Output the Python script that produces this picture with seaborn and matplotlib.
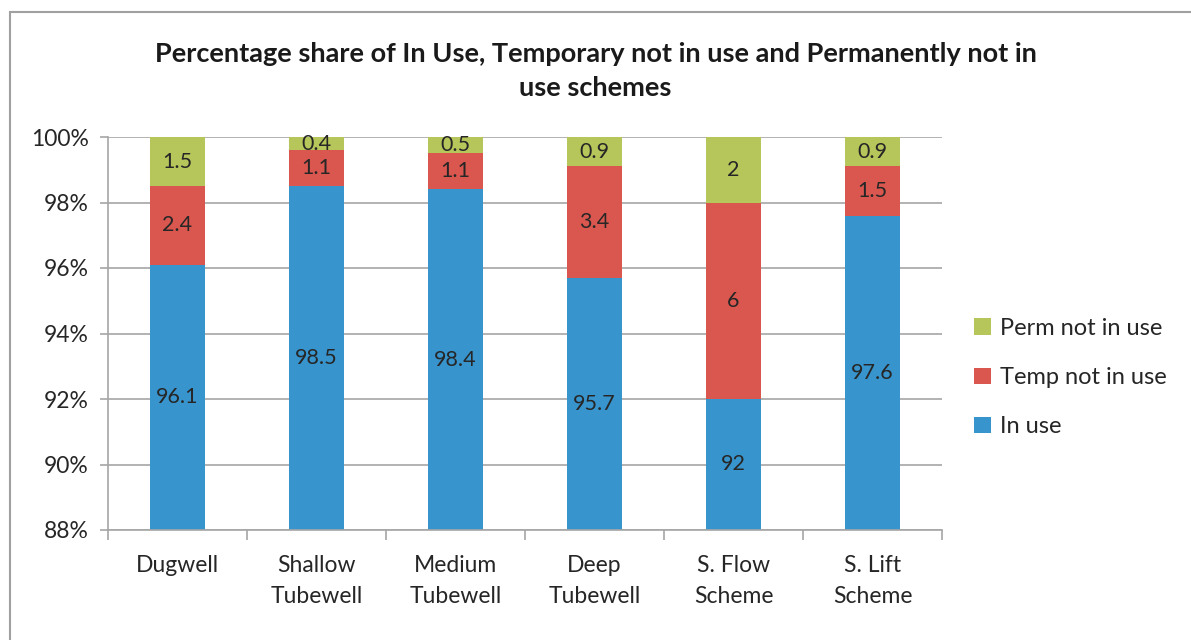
import matplotlib
matplotlib.use("Agg")
import matplotlib.pyplot as plt
import seaborn as sns
import numpy as np
import pandas as pd
from matplotlib.patches import Rectangle

# data
categories = ["Dugwell", "Shallow\nTubewell", "Medium\nTubewell", "Deep\nTubewell", "S. Flow\nScheme", "S. Lift\nScheme"]
in_use = [96.1, 98.5, 98.4, 95.7, 92, 97.6]
temp_not = [2.4, 1.1, 1.1, 3.4, 6, 1.5]
perm_not = [1.5, 0.4, 0.5, 0.9, 2, 0.9]
yticks = [88, 90, 92, 94, 96, 98, 100]

sns.set_style("white")
plt.rcParams['font.family'] = ['Lato', 'DejaVu Sans']

blue = "#3794CC"
red = "#D9574F"
green = "#B7C65A"
grey = "#A6A6A6"
txt = "#262626"

fig = plt.figure(figsize=(11.91, 6.4), dpi=100)
ax = fig.add_axes([108 / 1191, 1 - 530 / 640, (942 - 108) / 1191, (530 - 137) / 640])

df = pd.DataFrame({"cat": categories, "in_use": in_use, "temp": temp_not, "perm": perm_not})
bottom_temp = df["in_use"]
bottom_perm = df["in_use"] + df["temp"]

sns.barplot(data=df, x="cat", y="in_use", color=blue, width=0.4, ax=ax, label="In use",
            edgecolor="none", saturation=1)
sns.barplot(data=df, x="cat", y="temp", color=red, width=0.4, ax=ax, label="Temp not in use",
            bottom=bottom_temp, edgecolor="none", saturation=1)
sns.barplot(data=df, x="cat", y="perm", color=green, width=0.4, ax=ax, label="Perm not in use",
            bottom=bottom_perm, edgecolor="none", saturation=1)
handles, labels = ax.get_legend_handles_labels()
if ax.get_legend() is not None:
    ax.get_legend().remove()

ymin, ymax = 88, 100
ax.set_ylim(ymin, ymax)
ax.set_xlim(-0.5, len(categories) - 0.5)

# segment labels
for i in range(len(categories)):
    y1 = (ymin + in_use[i]) / 2
    ax.text(i, y1, f"{in_use[i]:g}", ha="center", va="center", fontsize=15.5, color=txt)
    y2 = in_use[i] + temp_not[i] / 2
    ax.text(i, y2, f"{temp_not[i]:g}", ha="center", va="center", fontsize=15.5, color=txt)
    y3 = in_use[i] + temp_not[i] + perm_not[i] / 2
    ax.text(i, y3, f"{perm_not[i]:g}", ha="center", va="center", fontsize=15.5, color=txt)

ax.set_yticks(yticks)
ax.set_yticklabels([f"{t}%" for t in yticks], fontsize=16.5, color=txt)
ax.yaxis.grid(True, color=grey, linewidth=1.2)
ax.set_axisbelow(True)

ax.set_xticks(range(len(categories)))
ax.set_xticklabels(categories, fontsize=16.5, color=txt, linespacing=1.6)
ax.tick_params(axis="x", length=0, pad=18)
ax.tick_params(axis="y", length=6, color=grey, width=1.2, direction="out", left=True, pad=8)
# category boundary ticks
ax.set_xticks(np.arange(-0.5, len(categories), 1), minor=True)
ax.tick_params(axis="x", which="minor", length=7, color=grey, width=1.2, direction="out", bottom=True)

ax.set_xlabel("")
ax.set_ylabel("")
for s in ["top", "right"]:
    ax.spines[s].set_visible(False)
for s in ["left", "bottom"]:
    ax.spines[s].set_color(grey)
    ax.spines[s].set_linewidth(1.2)

leg = fig.legend(handles[::-1], labels[::-1], loc="center left", bbox_to_anchor=(0.8, 0.41),
                 frameon=False, fontsize=17, handlelength=0.7, handleheight=0.7,
                 handletextpad=0.4, labelspacing=1.2, labelcolor=txt)

fig.suptitle("Percentage share of In Use, Temporary not in use and Permanently not in\nuse schemes",
             x=0.5, y=0.935, fontsize=19.5, fontweight="bold", linespacing=1.5, color="#1a1a1a")

# chart border
fig.patches.append(Rectangle((10 / 1191, -0.1), 1.2, 1 - 12 / 640 + 0.1, transform=fig.transFigure,
                             fill=False, edgecolor="#A0A0A0", linewidth=1.5))

fig.savefig("out.png", dpi=100)
